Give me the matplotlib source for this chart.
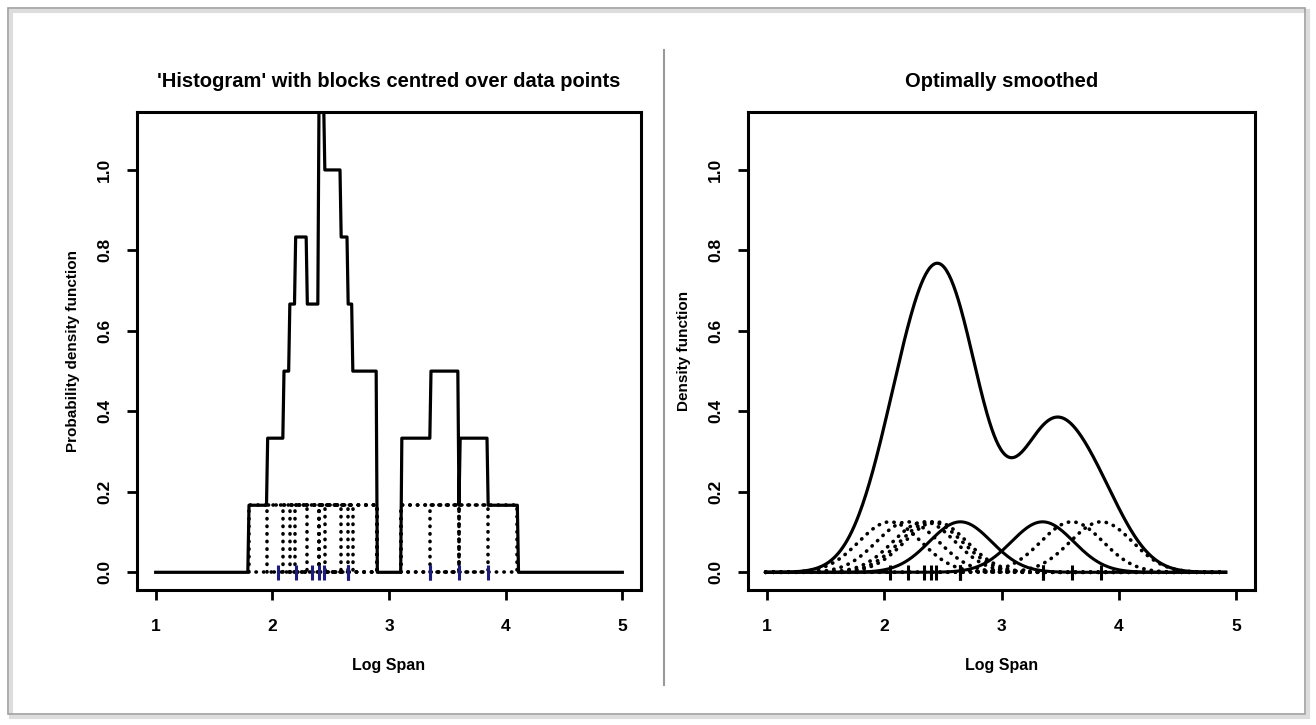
import numpy as np
import matplotlib
matplotlib.use("Agg")
import matplotlib.pyplot as plt
from matplotlib.lines import Line2D
from matplotlib.patches import Rectangle

log_span = [2.05, 2.20, 2.34, 2.40, 2.44, 2.65, 2.65, 2.65, 3.35, 3.35, 3.60, 3.85]
block_width = 0.5      # width of each block in left panel
bandwidth = 0.265      # gaussian kernel bandwidth in right panel

x_ticks = [1, 2, 3, 4, 5]
y_ticks = [0.0, 0.2, 0.4, 0.6, 0.8, 1.0]
y_tick_labels = ["0.0", "0.2", "0.4", "0.6", "0.8", "1.0"]

title_left = "'Histogram' with blocks centred over data points"
title_right = "Optimally smoothed"
xlabel = "Log Span"
ylabel_left = "Probability density function"
ylabel_right = "Density function"

plt.rcParams['font.family'] = ['Liberation Sans', 'DejaVu Sans']
plt.rcParams['font.weight'] = 'bold'

data = np.array(log_span)
n = len(data)
dotted = (0, (0.1, 2.0))

fig = plt.figure(figsize=(13.16, 7.25), dpi=100)
ax1 = fig.add_axes([137/1316, 1-590/725, 504/1316, 478/725])
ax2 = fig.add_axes([748/1316, 1-590/725, 507/1316, 478/725])


def style_axes(ax, title, ylab):
    ax.set_xlim(0.84, 5.16)
    ax.set_ylim(-0.044, 1.144)
    ax.set_xticks(x_ticks)
    ax.set_xticklabels([str(t) for t in x_ticks], fontsize=12.5, fontweight='bold')
    ax.set_yticks(y_ticks)
    ax.set_yticklabels(y_tick_labels, fontsize=12.5, fontweight='bold',
                       rotation=90, va='center')
    ax.tick_params(direction='out', length=7, width=2, pad=11)
    ax.tick_params(axis='x', pad=14)
    for s in ax.spines.values():
        s.set_linewidth(2.2)
    ax.set_title(title, fontsize=14.5, fontweight='bold', pad=18)
    ax.set_xlabel(xlabel, fontsize=11.5, fontweight='bold', labelpad=17)
    ax.set_ylabel(ylab, fontsize=11, fontweight='bold', labelpad=12)


# left: naive estimator (sum of blocks) and the blocks themselves
grid = np.linspace(1, 5, 401)
height = 1.0 / (n * block_width)
counts = (np.abs(grid[:, None] - data[None, :]) < block_width / 2).sum(axis=1)
ax1.plot(grid, counts * height, color='black', lw=2.3, zorder=3)
for xi in data:
    lo, hi = xi - block_width / 2, xi + block_width / 2
    ax1.plot([lo, lo, hi, hi, lo], [0, height, height, 0, 0], color='black',
             lw=2.6, linestyle=dotted, dash_capstyle='round', zorder=2)
ax1.vlines(data, -0.018, 0.018, color='#1c1c80', lw=2.2, zorder=4)
style_axes(ax1, title_left, ylabel_left)

# right: gaussian kernel estimate and the individual kernels
xs = np.linspace(data.min() - 4 * bandwidth, data.max() + 4 * bandwidth, 400)
dens = np.zeros_like(xs)
uniq, mult = np.unique(data, return_counts=True)
for xi, m in zip(uniq, mult):
    k = np.exp(-0.5 * ((xs - xi) / bandwidth) ** 2) / (np.sqrt(2 * np.pi) * bandwidth * n)
    dens += m * k
    if m > 1:
        ax2.plot(xs, k, color='black', lw=2.2, zorder=2)
    else:
        ax2.plot(xs, k, color='black', lw=2.6, linestyle=dotted,
                 dash_capstyle='round', zorder=2)
ax2.plot(xs, dens, color='black', lw=2.3, zorder=3)
ax2.vlines(data, -0.018, 0.018, color='black', lw=2.2, zorder=4)
style_axes(ax2, title_right, ylabel_right)

# separator and outer frame
fig.add_artist(Line2D([664/1316, 664/1316], [1-50/725, 1-685/725],
                      color='#9a9a9a', lw=1.5))
fig.add_artist(Rectangle((11/1316, 1-717/725), 1297/1316, 706/725, fill=False,
                         edgecolor='#dddddd', lw=3, transform=fig.transFigure))
fig.add_artist(Rectangle((8/1316, 1-714/725), 1297/1316, 706/725, fill=False,
                         edgecolor='#a0a0a0', lw=1.2, transform=fig.transFigure))

fig.savefig("out.png", dpi=100)
